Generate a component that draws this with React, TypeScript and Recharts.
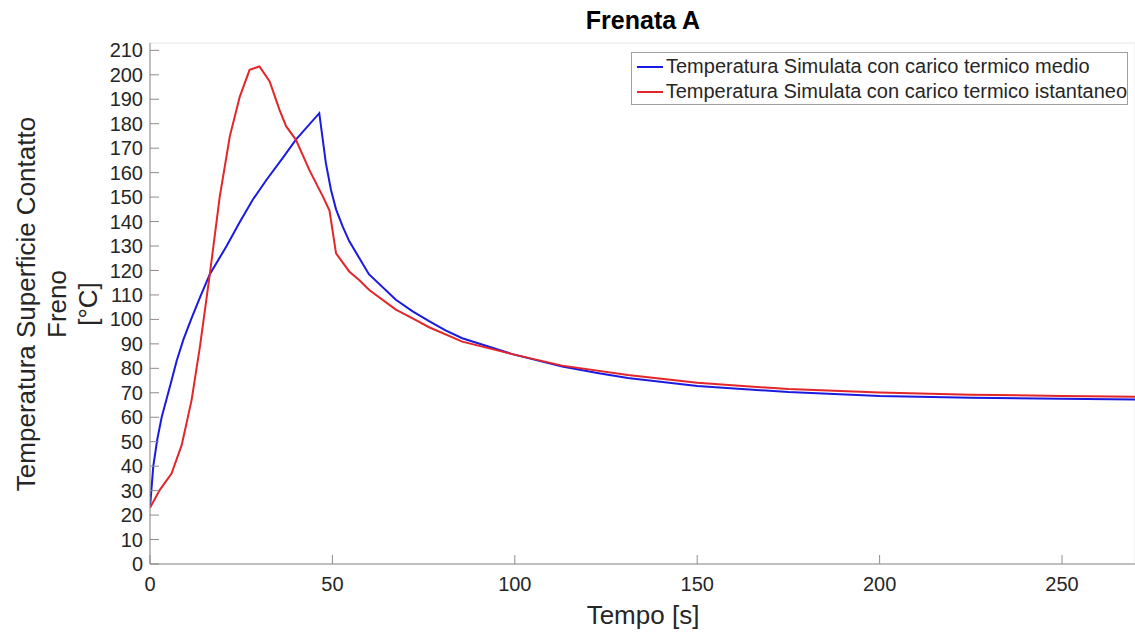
import { LineChart, Line, XAxis, YAxis, CartesianGrid, Legend } from 'recharts'

const timeMedio = [0, 0.9, 2, 3.2, 5.9, 7.3, 9.1, 11.4, 13.7, 16.4, 21, 24.5, 28.2, 31.9, 36.4, 40, 46.4, 48.2, 49.6, 51, 52.8, 54.6, 57.4, 60, 67.4, 72, 76.5, 81, 85.6, 99.3, 113, 123, 131, 150, 175, 200, 225, 250, 270]
const tempMedio = [23, 40, 51, 60, 75, 83, 91.5, 100.5, 109, 118.5, 130, 139.5, 149, 157, 166, 173.5, 184.3, 164, 153, 145, 138, 132, 125, 118.5, 108, 103.3, 99.3, 95.5, 92.3, 85.8, 80.7, 78, 76, 72.8, 70.3, 68.7, 68, 67.6, 67.3]

const timeIst = [0, 2.7, 5.9, 8.7, 11.4, 13.7, 16.4, 19.1, 21.9, 24.6, 27.3, 30, 32.8, 35.5, 37.3, 40, 43.7, 47.4, 49.2, 51, 54.6, 57.4, 60.1, 67.4, 72, 76.5, 85.6, 99.3, 113, 131, 150, 175, 200, 225, 250, 270]
const tempIst = [23, 30.3, 37, 48.7, 67, 89, 118.5, 150, 175, 191, 202, 203.4, 197.3, 185.7, 179, 173.4, 161, 150.2, 144.5, 127, 119.6, 116, 112, 104, 100.4, 96.8, 90.9, 85.8, 81.1, 77.3, 74.1, 71.5, 70.1, 69.2, 68.7, 68.4]

const xTicks = [0, 50, 100, 150, 200, 250]
const yTicks = [0, 10, 20, 30, 40, 50, 60, 70, 80, 90, 100, 110, 120, 130, 140, 150, 160, 170, 180, 190, 200, 210]

const nameMedio = 'Temperatura Simulata con carico termico medio'
const nameIst = 'Temperatura Simulata con carico termico istantaneo'
const BLUE = '#1a1ae0'
const RED = '#e3262a'
const FONT = '"Liberation Sans", Arial, Helvetica, sans-serif'
const TXT = '#262626'

const medioData = timeMedio.map((t, i) => ({ t, v: tempMedio[i] }))
const istData = timeIst.map((t, i) => ({ t, v: tempIst[i] }))

const LegendBox = () => (
  <div
    style={{
      border: '1px solid #a0a0a0',
      background: '#fff',
      fontFamily: FONT,
      fontSize: 20,
      color: TXT,
      padding: '1px 0 0 4px',
      boxSizing: 'border-box',
      width: 497,
      height: 53,
    }}
  >
    {[
      { name: nameMedio, color: BLUE },
      { name: nameIst, color: RED },
    ].map((it) => (
      <div key={it.name} style={{ display: 'flex', alignItems: 'center', height: 25, whiteSpace: 'nowrap' }}>
        <svg width={28} height={10} style={{ marginRight: 2 }}>
          <line x1={1} y1={5} x2={27} y2={5} stroke={it.color} strokeWidth={2} />
        </svg>
        <span>{it.name}</span>
      </div>
    ))}
  </div>
)

const YLabel = () => (
  <g fontFamily={FONT} fontSize={26} fill={TXT} textAnchor="middle">
    <text x={26} y={304} transform="rotate(-90 26 304)" dominantBaseline="central">Temperatura Superficie Contatto</text>
    <text x={57} y={304} transform="rotate(-90 57 304)" dominantBaseline="central">Freno</text>
    <text x={88} y={304} transform="rotate(-90 88 304)" dominantBaseline="central">[°C]</text>
  </g>
)

const XLabel = () => (
  <g fontFamily={FONT} textAnchor="middle" fill={TXT}>
    <text x={643} y={615} fontSize={26} dominantBaseline="central">Tempo [s]</text>
    <text x={643} y={20} fontSize={25} fontWeight="bold" fill="#000" dominantBaseline="central">Frenata A</text>
  </g>
)

export default function App() {
  return (
    <div style={{ position: 'absolute', left: 0, top: 0, background: '#fff' }}>
      <LineChart width={1135} height={632} margin={{ top: 43, right: 0, bottom: 0, left: 0 }}>
        <CartesianGrid stroke="#e8e8e8" strokeWidth={1} />
        <XAxis
          xAxisId="b"
          dataKey="t"
          type="number"
          domain={[0, 270]}
          ticks={xTicks}
          allowDataOverflow
          height={68}
          stroke="#8c8c8c"
          tickSize={-9}
          tickMargin={22}
          tick={{ fill: TXT, fontSize: 20, fontFamily: FONT }}
          label={{ content: () => <XLabel /> }}
        />
        <XAxis
          xAxisId="t"
          orientation="top"
          dataKey="t"
          type="number"
          domain={[0, 270]}
          ticks={xTicks}
          height={0}
          stroke="#8c8c8c"
          tickSize={-9}
          tick={false}
        />
        <YAxis
          yAxisId="l"
          type="number"
          domain={[0, 213]}
          ticks={yTicks}
          allowDataOverflow
          width={150}
          stroke="#8c8c8c"
          tickSize={-9}
          tickMargin={16}
          interval={0}
          tick={{ fill: TXT, fontSize: 20, fontFamily: FONT }}
          label={{ content: () => <YLabel /> }}
        />
        <YAxis
          yAxisId="r"
          orientation="right"
          type="number"
          domain={[0, 213]}
          ticks={yTicks}
          width={0}
          stroke="#8c8c8c"
          tickSize={-9}
          interval={0}
          tick={false}
        />
        <Legend
          layout="vertical"
          align="center"
          verticalAlign="middle"
          content={() => <LegendBox />}
          wrapperStyle={{ position: 'absolute', left: 631, top: 52, width: 497, height: 53 }}
        />
        <Line
          xAxisId="b"
          yAxisId="l"
          data={medioData}
          dataKey="v"
          name={nameMedio}
          type="linear"
          stroke={BLUE}
          strokeWidth={2}
          dot={false}
          isAnimationActive={false}
        />
        <Line
          xAxisId="b"
          yAxisId="l"
          data={istData}
          dataKey="v"
          name={nameIst}
          type="linear"
          stroke={RED}
          strokeWidth={2}
          dot={false}
          isAnimationActive={false}
        />
      </LineChart>
    </div>
  )
}
